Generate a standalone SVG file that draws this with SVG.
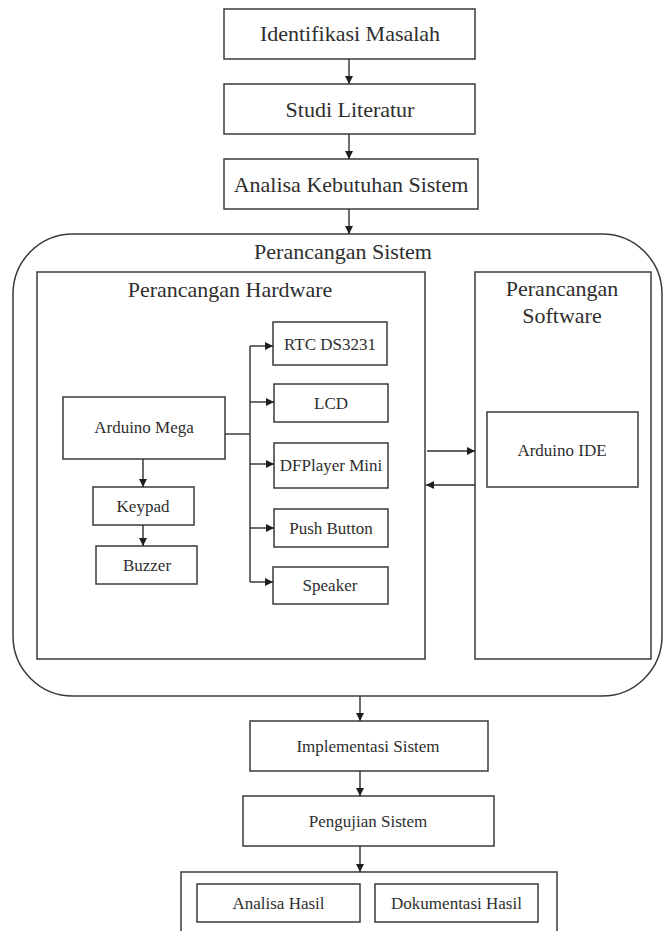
<svg xmlns="http://www.w3.org/2000/svg" width="664" height="931" viewBox="0 0 664 931">
<style>
.box{fill:#fff;stroke:#3a3a3a;stroke-width:1.5}
.frame{fill:none;stroke:#3a3a3a;stroke-width:1.5}
text{font-family:'Liberation Serif','Times New Roman','DejaVu Serif',serif;fill:#2e2e2e;text-anchor:middle}
.lg{font-size:22px}
.sm{font-size:17px}
.con{fill:none;stroke:#2e2e2e;stroke-width:1.4}
</style>
<defs>
<marker id="ah" markerUnits="userSpaceOnUse" markerWidth="9" markerHeight="9" refX="8" refY="4" orient="auto">
<path d="M0,0 L8,4 L0,8 z" fill="#1e1e1e"/>
</marker>
</defs>
<rect width="664" height="931" fill="#fff"/>

<g id="perancangan-sistem">
<rect class="frame" x="13" y="234" width="649" height="462" rx="60" ry="60"/>
<text class="lg" x="343" y="259" font-family="Liberation Serif, serif">Perancangan Sistem</text>
</g>
<g id="perancangan-hardware">
<rect class="frame" x="37" y="272" width="388" height="387"/>
<text class="lg" x="230" y="297" font-family="Liberation Serif, serif">Perancangan Hardware</text>
</g>
<g id="perancangan-software">
<rect class="frame" x="475" y="272" width="176" height="387"/>
<text class="lg" x="562" y="296" font-family="Liberation Serif, serif">Perancangan</text>
<text class="lg" x="562" y="323" font-family="Liberation Serif, serif">Software</text>
</g>

<g id="identifikasi">
<rect class="box" x="224" y="9" width="251" height="50"/>
<text class="lg" x="350" y="41" font-family="Liberation Serif, serif">Identifikasi Masalah</text>
</g>
<g id="studi">
<rect class="box" x="224" y="84" width="251" height="50"/>
<text class="lg" x="350" y="117" font-family="Liberation Serif, serif">Studi Literatur</text>
</g>
<g id="analisa-kebutuhan">
<rect class="box" x="224" y="159" width="254" height="50"/>
<text class="lg" x="351" y="192" font-family="Liberation Serif, serif">Analisa Kebutuhan Sistem</text>
</g>

<g id="arduino-mega">
<rect class="box" x="63" y="397" width="162" height="62"/>
<text class="sm" x="144" y="433" font-family="Liberation Serif, serif">Arduino Mega</text>
</g>
<g id="keypad">
<rect class="box" x="93" y="487" width="101" height="38"/>
<text class="sm" x="143" y="512" font-family="Liberation Serif, serif">Keypad</text>
</g>
<g id="buzzer">
<rect class="box" x="96" y="546" width="101" height="38"/>
<text class="sm" x="147" y="571" font-family="Liberation Serif, serif">Buzzer</text>
</g>
<g id="rtc">
<rect class="box" x="273" y="322" width="114" height="43"/>
<text class="sm" x="330" y="350" font-family="Liberation Serif, serif">RTC DS3231</text>
</g>
<g id="lcd">
<rect class="box" x="274" y="384" width="114" height="38"/>
<text class="sm" x="331" y="409" font-family="Liberation Serif, serif">LCD</text>
</g>
<g id="dfplayer">
<rect class="box" x="274" y="443" width="114" height="45"/>
<text class="sm" x="331" y="471" font-family="Liberation Serif, serif">DFPlayer Mini</text>
</g>
<g id="push-button">
<rect class="box" x="274" y="509" width="114" height="38"/>
<text class="sm" x="331" y="534" font-family="Liberation Serif, serif">Push Button</text>
</g>
<g id="speaker">
<rect class="box" x="273" y="567" width="115" height="37"/>
<text class="sm" x="330" y="591" font-family="Liberation Serif, serif">Speaker</text>
</g>
<g id="arduino-ide">
<rect class="box" x="487" y="412" width="151" height="75"/>
<text class="sm" x="562" y="456" font-family="Liberation Serif, serif">Arduino IDE</text>
</g>

<g id="implementasi">
<rect class="box" x="250" y="721" width="238" height="50"/>
<text class="sm" x="368" y="752" font-family="Liberation Serif, serif">Implementasi Sistem</text>
</g>
<g id="pengujian">
<rect class="box" x="243" y="796" width="251" height="50"/>
<text class="sm" x="368" y="827" font-family="Liberation Serif, serif">Pengujian Sistem</text>
</g>
<g id="hasil">
<path class="frame" d="M181,940 V872 H557 V940"/>
</g>
<g id="analisa-hasil">
<rect class="box" x="197" y="884" width="163" height="38"/>
<text class="sm" x="278.5" y="909" font-family="Liberation Serif, serif">Analisa Hasil</text>
</g>
<g id="dokumentasi-hasil">
<rect class="box" x="375" y="884" width="163" height="38"/>
<text class="sm" x="456.5" y="909" font-family="Liberation Serif, serif">Dokumentasi Hasil</text>
</g>

<g id="connectors">
<path class="con" d="M349,59 V84" marker-end="url(#ah)"/>
<path class="con" d="M349,134 V159" marker-end="url(#ah)"/>
<path class="con" d="M349,209 V234" marker-end="url(#ah)"/>
<path class="con" d="M225,434 H250"/>
<path class="con" d="M250,346 V582"/>
<path class="con" d="M250,346 H273" marker-end="url(#ah)"/>
<path class="con" d="M250,402 H274" marker-end="url(#ah)"/>
<path class="con" d="M250,464 H274" marker-end="url(#ah)"/>
<path class="con" d="M250,528 H274" marker-end="url(#ah)"/>
<path class="con" d="M250,582 H273" marker-end="url(#ah)"/>
<path class="con" d="M143,459 V487" marker-end="url(#ah)"/>
<path class="con" d="M143,525 V546" marker-end="url(#ah)"/>
<path class="con" d="M427,451 H475" marker-end="url(#ah)"/>
<path class="con" d="M475,485 H426" marker-end="url(#ah)"/>
<path class="con" d="M360,696 V721" marker-end="url(#ah)"/>
<path class="con" d="M360,771 V796" marker-end="url(#ah)"/>
<path class="con" d="M360,846 V872" marker-end="url(#ah)"/>
</g>
</svg>
